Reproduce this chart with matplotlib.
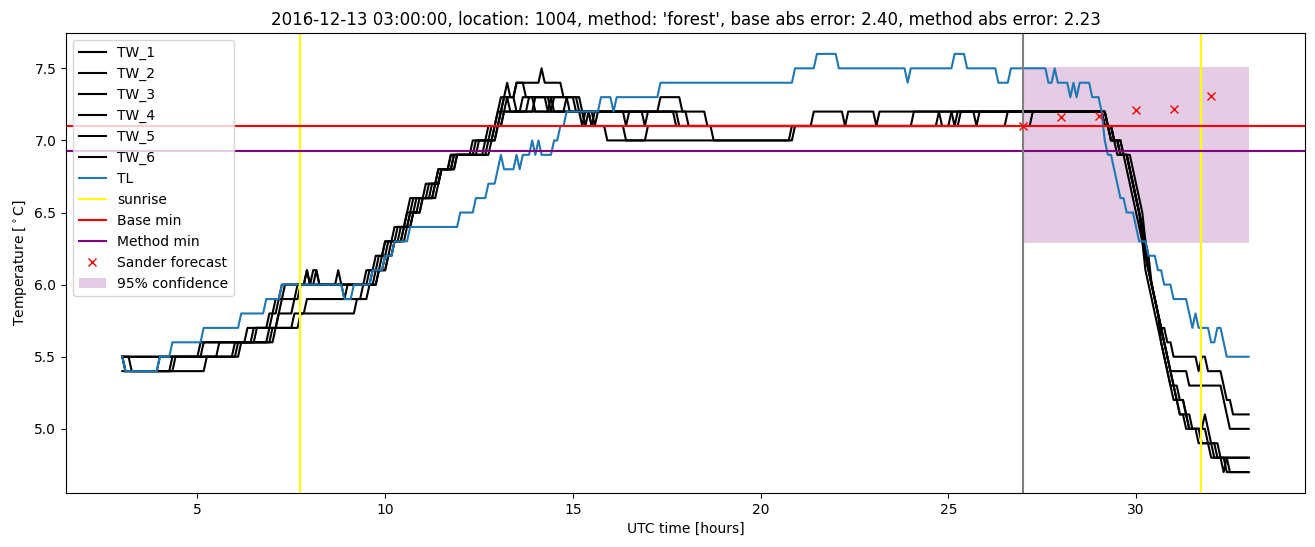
import numpy as np
import matplotlib
matplotlib.use("Agg")
import matplotlib.pyplot as plt

# readings every 5 minutes, 03:00 .. 33:00 (UTC hours)
# each series kept as (hour, value) at the readings where the value changes
tw1_steps = [(3.0, 5.5), (5.083, 5.6), (6.333, 5.7), (6.917, 5.8), (7.083, 5.9), (7.25, 6.0),
             (7.917, 6.1), (8.0, 6.0), (8.75, 6.1), (8.833, 6.0), (9.5, 6.1), (9.75, 6.2),
             (10.0, 6.3), (10.25, 6.4), (10.583, 6.5), (10.667, 6.6), (11.083, 6.7), (11.417, 6.8),
             (11.75, 6.9), (12.333, 7.0), (12.75, 7.1), (13.0, 7.2), (13.083, 7.3), (13.25, 7.4),
             (13.333, 7.3), (13.5, 7.4), (14.167, 7.5), (14.25, 7.4), (14.75, 7.3), (15.25, 7.2),
             (15.583, 7.1), (15.667, 7.2), (17.333, 7.3), (17.917, 7.2), (18.583, 7.1), (21.417, 7.2),
             (22.25, 7.1), (22.333, 7.2), (23.083, 7.1), (23.167, 7.2), (29.167, 7.1), (29.333, 7.0),
             (29.583, 6.9), (29.833, 6.8), (29.917, 6.7), (30.0, 6.6), (30.083, 6.5), (30.167, 6.4),
             (30.25, 6.2), (30.333, 6.1), (30.417, 6.0), (30.5, 5.9), (30.583, 5.8), (30.667, 5.7),
             (30.833, 5.6), (31.0, 5.5), (31.667, 5.4), (31.75, 5.5), (31.917, 5.4), (32.333, 5.3),
             (32.417, 5.2), (32.583, 5.1)]
tw2_steps = [(3.0, 5.5), (3.083, 5.4), (4.0, 5.5), (5.583, 5.6), (6.5, 5.7), (7.0, 5.8),
             (7.167, 5.9), (7.333, 6.0), (8.083, 6.1), (8.25, 6.0), (9.583, 6.1), (9.833, 6.2),
             (10.0, 6.3), (10.333, 6.4), (10.583, 6.5), (10.75, 6.6), (11.167, 6.7), (11.417, 6.8),
             (11.75, 6.9), (12.417, 7.0), (12.833, 7.1), (13.0, 7.2), (13.167, 7.3), (13.5, 7.4),
             (13.75, 7.3), (14.333, 7.2), (14.417, 7.3), (15.083, 7.2), (15.333, 7.1), (15.417, 7.2),
             (16.417, 7.1), (16.5, 7.2), (17.833, 7.1), (24.083, 7.2), (25.167, 7.1), (25.25, 7.2),
             (29.167, 7.1), (29.333, 7.0), (29.583, 6.9), (29.833, 6.8), (29.917, 6.7), (30.0, 6.6),
             (30.083, 6.5), (30.167, 6.3), (30.25, 6.2), (30.333, 6.1), (30.417, 6.0), (30.5, 5.9),
             (30.583, 5.8), (30.667, 5.7), (30.75, 5.6), (30.833, 5.5), (30.917, 5.4), (31.417, 5.3),
             (32.333, 5.2), (32.417, 5.1), (32.5, 5.0)]
tw3_steps = [(3.0, 5.5), (3.083, 5.4), (4.333, 5.5), (6.0, 5.6), (6.917, 5.7), (7.167, 5.8),
             (7.25, 5.9), (7.667, 6.0), (8.167, 6.1), (8.25, 6.0), (8.917, 5.9), (9.0, 6.0),
             (9.667, 6.1), (9.917, 6.2), (10.083, 6.3), (10.417, 6.4), (10.667, 6.5), (10.833, 6.6),
             (11.25, 6.7), (11.5, 6.8), (11.833, 6.9), (12.5, 7.0), (12.917, 7.1), (13.083, 7.2),
             (13.167, 7.3), (13.5, 7.2), (13.667, 7.3), (14.417, 7.2), (14.5, 7.3), (15.167, 7.2),
             (15.25, 7.1), (15.333, 7.2), (16.917, 7.1), (17.0, 7.2), (18.083, 7.1), (24.75, 7.2),
             (24.833, 7.1), (25.083, 7.2), (25.75, 7.1), (25.833, 7.2), (29.25, 7.1), (29.417, 7.0),
             (29.583, 6.9), (29.833, 6.8), (29.917, 6.7), (30.0, 6.6), (30.083, 6.5), (30.167, 6.4),
             (30.25, 6.2), (30.333, 6.1), (30.417, 6.0), (30.5, 5.9), (30.583, 5.8), (30.667, 5.7),
             (30.75, 5.6), (30.833, 5.5), (30.917, 5.4), (31.0, 5.3), (31.167, 5.2), (31.333, 5.1),
             (31.5, 5.0), (31.833, 5.1), (31.917, 5.0), (32.0, 4.9), (32.25, 4.8)]
tw4_steps = [(3.0, 5.5), (3.25, 5.4), (4.417, 5.5), (6.083, 5.6), (7.0, 5.7), (7.167, 5.8),
             (7.583, 5.9), (7.75, 6.0), (7.917, 6.1), (8.0, 6.0), (9.75, 6.1), (10.0, 6.2),
             (10.167, 6.3), (10.5, 6.4), (10.667, 6.5), (10.917, 6.6), (11.333, 6.7), (11.5, 6.8),
             (11.833, 6.9), (12.667, 7.0), (12.917, 7.1), (13.083, 7.2), (13.25, 7.3), (13.333, 7.2),
             (13.833, 7.3), (14.0, 7.2), (14.833, 7.3), (14.917, 7.2), (15.5, 7.1), (15.583, 7.2),
             (17.75, 7.1), (25.333, 7.2), (29.167, 7.1), (29.333, 7.0), (29.5, 6.9), (29.75, 6.8),
             (29.833, 6.7), (29.917, 6.6), (30.0, 6.5), (30.083, 6.4), (30.167, 6.3), (30.25, 6.1),
             (30.333, 6.0), (30.417, 5.9), (30.5, 5.8), (30.583, 5.7), (30.667, 5.6), (30.75, 5.5),
             (30.833, 5.4), (30.917, 5.3), (31.083, 5.2), (31.333, 5.1), (31.417, 5.0), (31.917, 4.9),
             (32.167, 4.8), (32.333, 4.7), (32.417, 4.8)]
tw5_steps = [(3.0, 5.5), (5.167, 5.6), (6.583, 5.7), (7.583, 5.8), (7.917, 5.9), (9.417, 6.0),
             (9.833, 6.1), (10.083, 6.2), (10.25, 6.3), (10.5, 6.4), (10.75, 6.5), (11.0, 6.6),
             (11.333, 6.7), (11.5, 6.8), (11.917, 6.9), (12.75, 7.0), (13.0, 7.1), (13.167, 7.2),
             (14.0, 7.3), (14.5, 7.2), (15.333, 7.1), (16.417, 7.0), (17.0, 7.1), (18.75, 7.0),
             (20.917, 7.1), (26.583, 7.2), (29.25, 7.1), (29.417, 7.0), (29.667, 6.9), (29.833, 6.8),
             (29.917, 6.7), (30.0, 6.6), (30.083, 6.5), (30.167, 6.4), (30.25, 6.3), (30.333, 6.1),
             (30.417, 6.0), (30.5, 5.9), (30.583, 5.8), (30.667, 5.7), (30.75, 5.6), (30.833, 5.5),
             (30.917, 5.4), (31.0, 5.3), (31.083, 5.2), (31.167, 5.1), (31.417, 5.0), (31.75, 4.9),
             (32.083, 4.8), (32.417, 4.7)]
tw6_steps = [(3.0, 5.4), (5.25, 5.5), (6.167, 5.6), (7.083, 5.7), (7.75, 5.8), (9.25, 5.9),
             (9.583, 6.0), (9.833, 6.1), (10.083, 6.2), (10.25, 6.3), (10.583, 6.4), (10.75, 6.5),
             (11.0, 6.6), (11.417, 6.7), (11.5, 6.8), (11.917, 6.9), (12.833, 7.0), (13.0, 7.1),
             (13.167, 7.2), (15.5, 7.1), (15.917, 7.0), (20.833, 7.1), (27.25, 7.2), (29.25, 7.1),
             (29.417, 7.0), (29.667, 6.9), (29.917, 6.8), (30.0, 6.7), (30.083, 6.6), (30.167, 6.5),
             (30.25, 6.3), (30.333, 6.2), (30.417, 6.0), (30.5, 5.9), (30.583, 5.8), (30.667, 5.6),
             (30.75, 5.5), (30.833, 5.4), (30.917, 5.3), (31.0, 5.2), (31.167, 5.1), (31.333, 5.0),
             (31.667, 4.9), (32.0, 4.8), (32.5, 4.7)]
tl_steps = [(3.0, 5.5), (3.083, 5.4), (4.0, 5.5), (4.333, 5.6), (5.167, 5.7), (6.167, 5.8),
            (6.833, 5.9), (7.25, 6.0), (8.917, 5.9), (9.167, 6.0), (9.667, 6.1), (10.0, 6.2),
            (10.25, 6.3), (10.667, 6.4), (12.0, 6.5), (12.417, 6.6), (12.75, 6.7), (13.0, 6.8),
            (13.083, 6.9), (13.167, 6.8), (13.5, 6.9), (13.583, 6.8), (13.667, 6.9), (13.917, 7.0),
            (14.0, 6.9), (14.083, 7.0), (14.167, 6.9), (14.5, 7.0), (14.667, 7.1), (14.833, 7.2),
            (15.75, 7.3), (16.083, 7.2), (16.167, 7.3), (17.333, 7.4), (20.917, 7.5), (21.5, 7.6),
            (22.083, 7.5), (23.917, 7.4), (24.0, 7.5), (25.167, 7.6), (25.5, 7.5), (26.333, 7.4),
            (26.667, 7.5), (27.667, 7.4), (27.833, 7.5), (27.917, 7.4), (28.25, 7.3), (28.333, 7.4),
            (28.417, 7.3), (28.5, 7.4), (28.833, 7.3), (29.083, 7.2), (29.167, 7.0), (29.25, 6.9),
            (29.417, 6.8), (29.5, 6.7), (29.583, 6.6), (29.75, 6.5), (30.0, 6.4), (30.083, 6.3),
            (30.333, 6.2), (30.583, 6.1), (30.75, 6.0), (31.0, 5.9), (31.417, 5.8), (31.5, 5.7),
            (31.583, 5.8), (31.667, 5.7), (32.0, 5.6), (32.167, 5.7), (32.333, 5.6), (32.417, 5.5)]

sunrise = [7.73, 31.72]
base_min = 7.1
method_min = 6.93
forecast_start = 27.0
sander_hours = [27, 28, 29, 30, 31, 32]
sander_temp = [7.10, 7.16, 7.17, 7.21, 7.22, 7.31]
conf_hours = [27, 33]
conf_low = 6.29
conf_high = 7.51

hours = 3 + np.arange(361) / 12


def expand(steps):
    # hold each value until the next change
    idx = np.array([round((t - 3) * 12) for t, _ in steps])
    vals = np.array([v for _, v in steps])
    return vals[np.searchsorted(idx, np.arange(len(hours)), side="right") - 1]


fig = plt.figure(figsize=(13.15, 5.47), dpi=100)
ax = fig.add_axes([0.0502, 0.0987, 0.9422, 0.841])

for i, steps in enumerate([tw1_steps, tw2_steps, tw3_steps, tw4_steps, tw5_steps, tw6_steps]):
    ax.plot(hours, expand(steps), color="black", label="TW_%d" % (i + 1))
ax.plot(hours, expand(tl_steps), color="C0", label="TL")

ax.axvline(sunrise[0], color="yellow", label="sunrise")
ax.axvline(sunrise[1], color="yellow")
ax.axhline(base_min, color="red", label="Base min")
ax.axhline(method_min, color="purple", label="Method min")
ax.axvline(forecast_start, color="gray")
ax.plot(sander_hours, sander_temp, "x", color="red", label="Sander forecast")
ax.fill_between(conf_hours, conf_low, conf_high, color="purple", alpha=0.2, linewidth=0,
                label="95% confidence")

ax.set_xlabel("UTC time [hours]")
ax.set_ylabel("Temperature [$^\\circ$C]")
ax.set_title("2016-12-13 03:00:00, location: 1004, method: 'forest', "
             "base abs error: 2.40, method abs error: 2.23")
ax.legend(loc="upper left")

fig.savefig("out.png")
